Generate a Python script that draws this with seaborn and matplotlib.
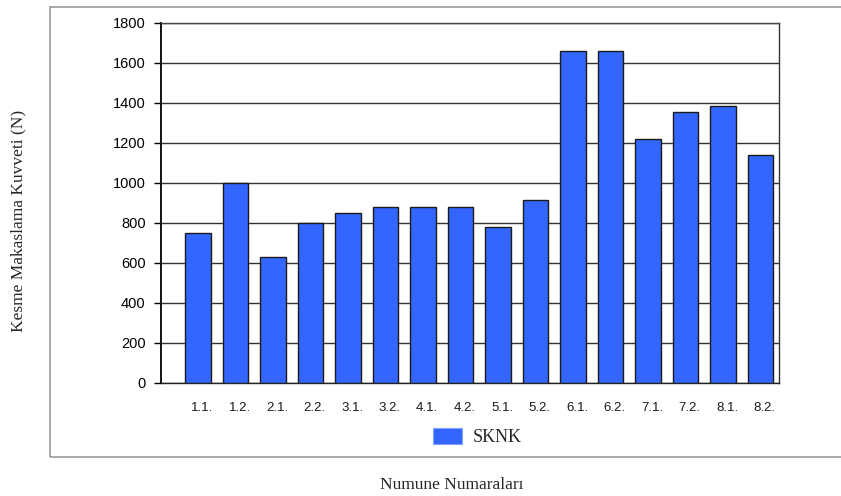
import matplotlib
matplotlib.use("Agg")
import matplotlib.pyplot as plt
import matplotlib.transforms as mtransforms
from matplotlib.patches import Rectangle, Patch
import seaborn as sns
import pandas as pd

# Shear force per specimen (N)
samples = ["1.1.", "1.2.", "2.1.", "2.2.", "3.1.", "3.2.", "4.1.", "4.2.",
           "5.1.", "5.2.", "6.1.", "6.2.", "7.1.", "7.2.", "8.1.", "8.2."]
force = [750, 1000, 630, 800, 850, 880, 880, 880,
         780, 915, 1660, 1660, 1220, 1355, 1385, 1140]
series_name = "SKNK"
y_ticks = [0, 200, 400, 600, 800, 1000, 1200, 1400, 1600, 1800]

df = pd.DataFrame({"Numune": samples, "Kuvvet": force})

sns.set_theme(style="white")
plt.rcParams["font.family"] = ["Liberation Sans", "DejaVu Sans"]

W, H = 841, 496
fig = plt.figure(figsize=(W / 100, H / 100), dpi=100)
ax = fig.add_axes([161 / W, 1 - 383 / H, (779 - 161) / W, (383 - 23) / H])

bar_color = "#3366FF"
sns.barplot(data=df, x="Numune", y="Kuvvet", color=bar_color, width=0.68,
            edgecolor="#1a1a1a", linewidth=1.0, saturation=1, ax=ax, zorder=3)

ax.set_ylim(0, 1800)
ax.set_xlim(-0.99, len(samples) - 0.51)
ax.set_yticks(y_ticks)
ax.set_yticklabels([str(v) for v in y_ticks], fontsize=10.5, color="black")
ax.tick_params(axis="x", labelsize=9.5, length=0, pad=14, colors="#1a1a1a")
ax.tick_params(axis="y", length=5, width=1, direction="out", left=True,
               pad=6, color="black")
# nudge the category labels slightly to the right
shift = mtransforms.ScaledTranslation(4 / 100, 0, fig.dpi_scale_trans)
for lbl in ax.get_xticklabels():
    lbl.set_transform(lbl.get_transform() + shift)
ax.set_xlabel("")
ax.set_ylabel("")

ax.yaxis.grid(True, color="#333333", linewidth=1.0, zorder=0)
ax.set_axisbelow(True)
for side, sp in ax.spines.items():
    sp.set_visible(True)
    sp.set_linewidth(1.0)
ax.spines["left"].set_color("black")
ax.spines["left"].set_linewidth(1.3)
ax.spines["bottom"].set_color("#222222")
ax.spines["right"].set_color("#333333")
ax.spines["top"].set_color("#444444")

# Outer chart frame
frame = Rectangle((50 / W, 1 - 457 / H), 1.0, (457 - 7) / H,
                  transform=fig.transFigure, fill=False,
                  edgecolor="#999999", linewidth=1.2, clip_on=False)
fig.patches.append(frame)

fig.text(18 / W, 1 - 221 / H, "Kesme Makaslama Kuvveti (N)", rotation=90,
         ha="center", va="center", fontsize=12.5,
         family=["Liberation Serif", "DejaVu Serif"])
fig.text(452 / W, 1 - 485 / H, "Numune Numaraları", ha="center", va="center",
         fontsize=12.5, family=["Liberation Serif", "DejaVu Serif"])

handle = Patch(facecolor=bar_color, edgecolor="#7fa0ff", linewidth=0.8)
fig.legend([handle], [series_name], loc="center",
           bbox_to_anchor=(477 / W, 1 - 437 / H), frameon=False,
           prop={"family": ["Liberation Serif", "DejaVu Serif"], "size": 13},
           handlelength=1.65, handleheight=0.95, handletextpad=0.55)

fig.savefig("out.png", dpi=100)
